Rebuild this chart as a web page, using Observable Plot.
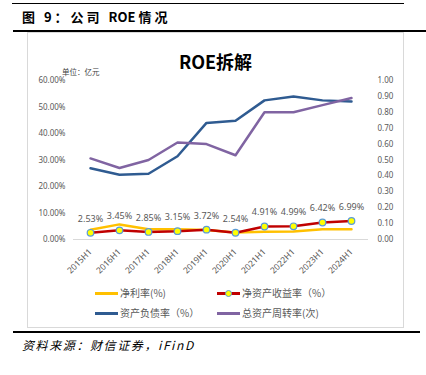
<!DOCTYPE html>
<html>
<head>
<meta charset="utf-8">
<script src="https://cdn.jsdelivr.net/npm/d3@7"></script>
<script src="https://cdn.jsdelivr.net/npm/@observablehq/plot@0.6"></script>
<style>
  html, body { margin: 0; padding: 0; background: #fff; }
  #root { position: relative; width: 426px; height: 375px; overflow: hidden; background: #fff;
          font-family: "Noto Sans", "Noto Sans CJK SC", sans-serif; }
  .abs { position: absolute; }
  .hline { position: absolute; background: #000; }
  #header { left: 22px; top: 7px; font-family: "Noto Sans CJK SC", serif; font-weight: bold; font-size: 13px; letter-spacing: 3px; color: #000; white-space: nowrap; }
  #header .tight { letter-spacing: 0; margin-right: 3px; }
  #box { left: 27px; top: 32px; width: 377px; height: 296px; border: 1px solid #d9d9d9; box-sizing: border-box; }
  #ctitle { left: 27px; width: 377px; top: 50px; text-align: center; font-family: "Noto Sans CJK SC", sans-serif; font-weight: bold; font-size: 18px; color: #000; line-height: 22px; }
  #unit { left: 62px; top: 66px; font-family: "Noto Sans CJK SC", sans-serif; font-size: 7.5px; color: #404040; white-space: nowrap; }
  #chart { left: 27px; top: 62px; }
  .leg { position: absolute; font-family: "Noto Sans CJK SC", sans-serif; font-size: 10px; color: #595959; white-space: nowrap; line-height: 12px; }
  .sw { position: absolute; height: 3px; width: 23px; }
  #source { left: 22px; top: 336px; font-family: "Noto Sans CJK SC", serif; font-style: italic; font-size: 12px; letter-spacing: 1.6px; color: #000; white-space: nowrap; }
</style>
</head>
<body>
<div id="root">
  <div class="hline" style="left:12px; top:3px; width:392px; height:1px;"></div>
  <div id="header" class="abs">图 9：公司 <span class="tight">ROE</span>情况</div>
  <div class="hline" style="left:13px; top:30px; width:413px; height:1.5px;"></div>
  <div id="box" class="abs"></div>
  <div id="ctitle" class="abs">ROE拆解</div>
  <div id="unit" class="abs">单位：亿元</div>
  <div id="chart" class="abs"></div>
  <div id="legend"></div>
  <div class="hline" style="left:13px; top:331px; width:407px; height:1.5px;"></div>
  <div id="source" class="abs">资料来源：财信证券，iFinD</div>
</div>
<script>
// ---- data ----
const periods = ["2015H1","2016H1","2017H1","2018H1","2019H1","2020H1","2021H1","2022H1","2023H1","2024H1"];
const netMargin = [3.7, 5.7, 3.9, 3.9, 3.6, 2.6, 2.9, 3.0, 3.9, 3.9];          // 净利率(%)
const roe = [2.53, 3.45, 2.85, 3.15, 3.72, 2.54, 4.91, 4.99, 6.42, 6.99];       // 净资产收益率(%)
const debtRatio = [26.9, 24.4, 24.8, 31.4, 44.0, 44.8, 52.5, 54.0, 52.5, 52.1]; // 资产负债率(%)
const turnover = [0.51, 0.45, 0.50, 0.61, 0.60, 0.53, 0.80, 0.80, 0.845, 0.89];  // 总资产周转率(次)
const leftTicks = [0, 10, 20, 30, 40, 50, 60];
const rightTicks = [0, 0.1, 0.2, 0.3, 0.4, 0.5, 0.6, 0.7, 0.8, 0.9, 1.0];
const seriesNames = ["净利率(%)", "净资产收益率（%）", "资产负债率（%）", "总资产周转率(次)"];
const colors = ["#FFC000", "#C00000", "#2F5B91", "#8064A2"];

// right axis maps 0..1 onto left 0..60
const rightMax = 1.0, leftMax = 60;
const k = leftMax / rightMax;

const rows = periods.map((p, i) => ({
  p, nm: netMargin[i], roe: roe[i], debt: debtRatio[i], turn: turnover[i] * k
}));

const plot = Plot.plot({
  width: 377,
  height: 218,
  marginTop: 18,
  marginBottom: 41,
  marginLeft: 46,
  marginRight: 36,
  style: { fontFamily: "'Noto Sans', sans-serif", fontSize: "8px", color: "#595959", background: "transparent" },
  x: { type: "point", domain: periods, padding: 0.5, axis: null },
  y: { domain: [0, leftMax], axis: null },
  marks: [
    Plot.ruleY([0], { stroke: "#d9d9d9", strokeWidth: 1 }),
    Plot.axisY(leftTicks, { anchor: "left", tickSize: 0, tickPadding: 8, label: null,
      tickFormat: d => d.toFixed(2) + "%", fill: "#595959", fontSize: 8 }),
    Plot.axisY(rightTicks.map(v => v * k), { anchor: "right", tickSize: 0, tickPadding: 9, label: null,
      tickFormat: d => (d / k).toFixed(2), fill: "#595959", fontSize: 8, textAnchor: "start" }),
    Plot.axisX(periods, { anchor: "bottom", tickSize: 0, tickPadding: 11, tickRotate: -45, label: null,
      fill: "#595959", fontSize: 8.5 }),
    Plot.line(rows, { x: "p", y: "nm", stroke: colors[0], strokeWidth: 2.5 }),
    Plot.line(rows, { x: "p", y: "roe", stroke: colors[1], strokeWidth: 2.5 }),
    Plot.line(rows, { x: "p", y: "debt", stroke: colors[2], strokeWidth: 2.5 }),
    Plot.line(rows, { x: "p", y: "turn", stroke: colors[3], strokeWidth: 2.5 }),
    Plot.dot(rows, { x: "p", y: "roe", r: 3.3, fill: "#FFFF00", stroke: "#5B9BD5", strokeWidth: 1.2 }),
    Plot.text(rows, { x: "p", y: "roe", text: d => d.roe.toFixed(2) + "%", dy: -14, fill: "#595959", fontSize: 9 })
  ]
});
document.getElementById("chart").appendChild(plot);

// legend
const legend = document.getElementById("legend");
const legPos = [[95, 293], [217, 293], [95, 313], [217, 313]];
seriesNames.forEach((name, i) => {
  const [lx, ly] = legPos[i];
  const sw = document.createElement("div");
  sw.className = "sw";
  sw.style.left = lx + "px"; sw.style.top = (ly - 1.5) + "px"; sw.style.background = colors[i];
  legend.appendChild(sw);
  if (i === 1) {
    const m = document.createElement("div");
    m.style.cssText = `position:absolute; left:${lx + 8}px; top:${ly - 3.5}px; width:5px; height:5px; border-radius:50%; background:#FFFF00; border:1px solid #5B9BD5;`;
    legend.appendChild(m);
  }
  const t = document.createElement("div");
  t.className = "leg";
  t.textContent = name;
  t.style.left = (lx + 25) + "px"; t.style.top = (ly - 6) + "px";
  legend.appendChild(t);
});
</script>
</body>
</html>
